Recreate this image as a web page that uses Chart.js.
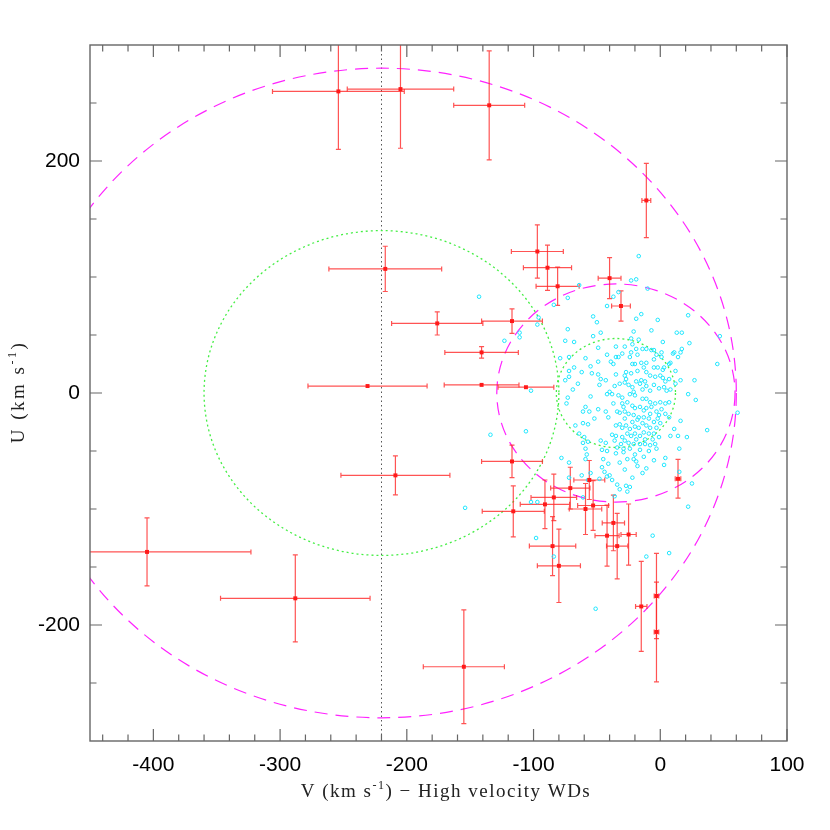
<!DOCTYPE html>
<html><head><meta charset="utf-8">
<script src="https://cdn.jsdelivr.net/npm/chart.js@4/dist/chart.umd.min.js"></script>
<style>html,body{margin:0;padding:0;background:#fff}#wrap{width:830px;height:830px}</style>
</head><body><div id="wrap"><canvas id="c" width="830" height="830"></canvas></div>
<script>
// ---- tick labels ----
const xTickLabels = [-400, -300, -200, -100, 0, 100];
const yTickLabels = [-200, 0, 200];

// ---- high velocity white dwarfs (red) ----
const redV = [-254, -205, -135, -11, -97, -89, -81, -40, -31, -117, -217, -176, -141, -231, -141, -106, -117, -116, -84, -91, -71, -85, -80, -59, -53, -56, -37, -42, -25, -34, 14, -3, -3, -15, -155, -405, -288, -209];
const redU = [260, 262, 248, 166, 122, 108, 92, 99, 75, 62, 107, 60, 35, 6, 7, 5, -59, -102, -90, -96, -82, -132, -149, -100, -97, -75, -112, -123, -122, -132, -74, -175, -206, -184, -236, -137, -177, -71];
const redErrV = [52, 42, 28, 3.5, 20.5, 19, 17, 9, 7.4, 24, 44.5, 36, 29, 47, 29.5, 22, 24, 24.5, 18, 19.5, 15.5, 18.3, 17, 12.8, 12.2, 12.2, 8.8, 9.5, 6, 8.4, 2.2, 1.8, 1.8, 4.5, 32, 82, 59, 43];
const redErrU = [50, 51, 47, 32, 23, 19.5, 16.5, 17.7, 13, 10.6, 19.5, 10, 5, 0, 0, 0, 14, 22, 20, 21, 18, 25.5, 31.6, 22, 21.5, 16.8, 24, 26.3, 26.3, 28.2, 16.7, 36.7, 43, 38.8, 49, 29.3, 37.5, 16.8];

// ---- disk stars (cyan) ----
const diskV = [
-143,-64,-73,-84,-42,-96,-97,-111,-111,-123,-53,-50,-73,-47,-53,-75,-68,-49,-42,-79,-72,-59,-55,-49,-68,-72,-62,-72,-54,-49,-47,-43,-75,-65,-48,-69,-55,-42,-102,-73,-74,-59,-56,-49,-61,-43,-52,-41,
-17,-23,-19,-10,-37,-33,-19,-15,-2,22,-21,-7,13,17,47,-23,-17,-35,-28,-22,-19,2,23,-14,-11,-7,-5,17,-30,-33,-35,-23,-24,-18,-3,1,10,11,14,16,-5,1,-39,-37,
-22,-20,-15,-11,-5,3,7,8,12,45,-27,-23,-18,-13,-11,-2,2,-35,-28,-27,-8,-4,0,2,4,7,16,27,-19,-15,-12,-36,-32,-40,-28,-25,-22,-21,-16,-14,-11,-8,-5,-1,3,5,8,12,22,28,-38,-33,-30,-24,-20,-14,-11,-8,-4,0,4,7,-37,-30,-29,-26,-22,-20,-16,-13,-11,-7,-3,1,4,7,-34,-32,-28,-25,-21,-17,-13,-8,-1,61,
-32,-27,-22,-20,-14,-11,-5,0,-38,-35,-30,-26,-23,-20,-16,-13,-9,-5,-1,-4,-8,-12,-16,-21,-25,-28,-36,-34,-29,-35,-29,8,14,21,16,11,37,15,-21,-19,-11,4,3,-32,15,-40,-38,-34,-27,-24,-26,-32,25,-36,22,-6,-11,7,
-134,-106,-67,-61,-57,-64,-60,-61,-57,-59,-58,-59,-47,-43,-46,-42,-45,-41,-46,-44,-42,-78,-72,-62,-55,-57,-48,-72,-61,-102,-97,-98,-84,-51,-154,-22,
-30,-24,-17,-8,-3,-28,-18,-9,-2,-35,-12,-6,-19,-24,-16,-9,-3,-20,-13,-26,-31,-18,-28,-5,-14
];
const diskU = [
83,93,82,76,75,65,59,52,48,45,66,61,55,52,49,45,44,39,33,30,31,30,23,27,22,19,18,14,17,16,12,11,11,8,7,3,-3,-1,2,-4,-9,-12,-16,-14,-16,-16,-22,-21,
118,97,98,90,83,87,64,68,63,67,53,54,52,52,49,47,46,40,40,42,38,44,43,38,38,37,37,38,34,31,31,35,31,33,33,35,34,35,31,35,29,31,27,25,
25,25,26,26,22,22,25,26,19,25,18,17,19,22,18,22,20,16,15,12,15,14,15,13,10,12,11,11,10,11,10,6,8,1,9,7,5,1,8,3,6,2,7,4,5,2,3,8,-1,-6,-1,-2,-4,-1,-2,-5,-5,-8,-9,-8,-9,-8,-9,-9,-12,-8,-11,-13,-12,-15,-13,-12,-16,-14,-18,-21,-16,-17,-16,-18,-19,-21,-21,-18,-19,-17,
-27,-28,-25,-29,-26,-28,-25,-26,-36,-37,-38,-35,-37,-35,-37,-34,-35,-35,-38,-44,-45,-44,-44,-44,-43,-41,-41,-47,-48,-52,-51,-37,-37,-38,-24,-31,-32,-48,-57,-59,-65,-56,-62,-60,-68,-71,-75,-79,-80,-81,-85,-83,-78,-89,-98,-123,-141,-138,
-36,-33,-28,-26,-27,-35,-38,-43,-42,-48,-53,-57,-41,-43,-49,-50,-57,-61,-64,-68,-72,-56,-60,-71,-69,-75,-74,-73,-90,-94,-94,-125,-141,-186,-99,-73,
-30,-31,-30,-30,-30,-22,-23,-22,-22,-28,-40,-40,-40,-48,-49,-50,-48,-53,-55,-57,-44,-63,-66,-58,-69
];

// ---- velocity ellipsoids: halo and thick disk (1 sigma dotted, 2 sigma dashed) ----
const popNames = ['halo', 'thick disk'];
const popMeanV = [-220, -35];
const popMeanU = [0, 0];
const popSigma = [140, 47];
const haloLineV = -220;

const FAM = "'Liberation Sans Narrow','Liberation Sans',Arial,sans-serif";
const SERIF = "'Liberation Serif','DejaVu Serif',serif";

const ellipsePlugin = {
  id: 'ellipses',
  beforeDatasetsDraw(chart) {
    const {ctx, chartArea: a, scales: {x, y}} = chart;
    ctx.save();
    ctx.beginPath(); ctx.rect(a.left, a.top, a.right - a.left, a.bottom - a.top); ctx.clip();
    // vertical dotted line at mean halo V
    ctx.strokeStyle = '#555'; ctx.lineWidth = 1; ctx.setLineDash([1.5, 3]);
    const lx = Math.round(x.getPixelForValue(haloLineV)) + 0.5;
    ctx.beginPath(); ctx.moveTo(lx, a.top); ctx.lineTo(lx, a.bottom); ctx.stroke();
    for (let i = 0; i < popMeanV.length; i++) {
      const cx = x.getPixelForValue(popMeanV[i]), cy = y.getPixelForValue(popMeanU[i]);
      for (const k of [1, 2]) {
        const r = popSigma[i] * k;
        const rx = Math.abs(x.getPixelForValue(popMeanV[i] + r) - cx);
        const ry = Math.abs(y.getPixelForValue(popMeanU[i] + r) - cy);
        ctx.beginPath();
        ctx.ellipse(cx, cy, rx, ry, 0, 0, Math.PI * 2);
        if (k === 1) { ctx.strokeStyle = '#44ee44'; ctx.setLineDash([2, 3]); ctx.lineWidth = 1.3; }
        else { ctx.strokeStyle = '#ff22ff'; ctx.setLineDash([13, 8]); ctx.lineWidth = 1.2; }
        ctx.stroke();
      }
    }
    // error bars
    ctx.setLineDash([]);
    ctx.strokeStyle = 'rgba(255,40,40,0.8)'; ctx.lineWidth = 1.2;
    const cap = 2.5;
    for (let i = 0; i < redV.length; i++) {
      const px = x.getPixelForValue(redV[i]), py = y.getPixelForValue(redU[i]);
      ctx.beginPath();
      if (redErrV[i] > 0) {
        const x1 = x.getPixelForValue(redV[i] - redErrV[i]), x2 = x.getPixelForValue(redV[i] + redErrV[i]);
        ctx.moveTo(x1, py); ctx.lineTo(x2, py);
        ctx.moveTo(x1, py - cap); ctx.lineTo(x1, py + cap);
        ctx.moveTo(x2, py - cap); ctx.lineTo(x2, py + cap);
      }
      if (redErrU[i] > 0) {
        const y1 = y.getPixelForValue(redU[i] - redErrU[i]), y2 = y.getPixelForValue(redU[i] + redErrU[i]);
        ctx.moveTo(px, y1); ctx.lineTo(px, y2);
        ctx.moveTo(px - cap, y1); ctx.lineTo(px + cap, y1);
        ctx.moveTo(px - cap, y2); ctx.lineTo(px + cap, y2);
      }
      ctx.stroke();
    }
    ctx.restore();
  }
};

const framePlugin = {
  id: 'frame',
  afterDraw(chart) {
    const {ctx, chartArea: a, scales: {x, y}} = chart;
    ctx.save();
    ctx.strokeStyle = '#666'; ctx.lineWidth = 1.4;
    ctx.strokeRect(a.left, a.top, a.right - a.left, a.bottom - a.top);
    ctx.lineWidth = 1.2;
    ctx.beginPath();
    for (let v = -440; v <= 100; v += 20) {
      const px = x.getPixelForValue(v);
      const L = (v % 100 === 0) ? 12 : 6.5;
      ctx.moveTo(px, a.bottom); ctx.lineTo(px, a.bottom - L);
      ctx.moveTo(px, a.top); ctx.lineTo(px, a.top + L);
    }
    for (let u = -250; u <= 250; u += 50) {
      const py = y.getPixelForValue(u);
      const L = (u % 200 === 0) ? 12 : 6.5;
      ctx.moveTo(a.left, py); ctx.lineTo(a.left + L, py);
      ctx.moveTo(a.right, py); ctx.lineTo(a.right - L, py);
    }
    ctx.stroke();

    // axis titles with superscript
    ctx.fillStyle = '#222';
    const big = '19px ' + SERIF, small = '12px ' + SERIF;
    function drawTitle(parts, cx, cy, sp) {
      ctx.letterSpacing = sp + 'px';
      let w = 0;
      for (const p of parts) { ctx.font = p.sup ? small : big; w += ctx.measureText(p.t).width; }
      let xx = cx - w / 2;
      ctx.textBaseline = 'alphabetic'; ctx.textAlign = 'left';
      for (const p of parts) {
        ctx.font = p.sup ? small : big;
        ctx.fillText(p.t, xx, cy + (p.sup ? -8 : 0));
        xx += ctx.measureText(p.t).width;
      }
      ctx.letterSpacing = '0px';
    }
    drawTitle([{t: 'V (km s'}, {t: '-1', sup: true}, {t: ') \u2212 High velocity WDs'}], 446, 797, 1.5);
    ctx.save();
    ctx.translate(24, 392); ctx.rotate(-Math.PI / 2);
    drawTitle([{t: 'U (km s'}, {t: '-1', sup: true}, {t: ')'}], 0, 0, 2.5);
    ctx.restore();
    ctx.restore();
  }
};

new Chart(document.getElementById('c'), {
  type: 'scatter',
  data: {
    datasets: [
      {label: 'High velocity WDs', data: redV.map((v, i) => ({x: v, y: redU[i]})),
       pointStyle: 'rect', pointRadius: 2.8, borderWidth: 0, backgroundColor: '#ff1a1a', borderColor: '#ff1a1a'},
      {label: 'Disk stars', data: diskV.map((v, i) => ({x: v, y: diskU[i]})),
       pointStyle: 'circle', pointRadius: 1.8, borderWidth: 1, borderColor: '#1ee6ff', backgroundColor: 'rgba(0,0,0,0)'}
    ]
  },
  options: {
    responsive: false, animation: false, events: [],
    layout: {padding: {left: 0, top: 45, right: 43, bottom: 0}},
    plugins: {legend: {display: false}, tooltip: {enabled: false}},
    scales: {
      x: {type: 'linear', position: 'bottom', min: -450, max: 100,
          afterBuildTicks: s => { s.ticks = xTickLabels.map(v => ({value: v})); },
          afterFit: s => { s.height = 89; },
          grid: {display: false, drawTicks: false}, border: {display: false},
          ticks: {padding: 12, color: '#000', font: {family: FAM, size: 21}, maxRotation: 0, autoSkip: false, callback: v => String(v)}},
      y: {type: 'linear', position: 'left', min: -300, max: 300,
          afterBuildTicks: s => { s.ticks = yTickLabels.map(v => ({value: v})); },
          afterFit: s => { s.width = 90; },
          grid: {display: false, drawTicks: false}, border: {display: false},
          ticks: {padding: 10, color: '#000', font: {family: FAM, size: 21}, autoSkip: false, callback: v => String(v)}}
    }
  },
  plugins: [ellipsePlugin, framePlugin]
});
</script>
</body></html>
